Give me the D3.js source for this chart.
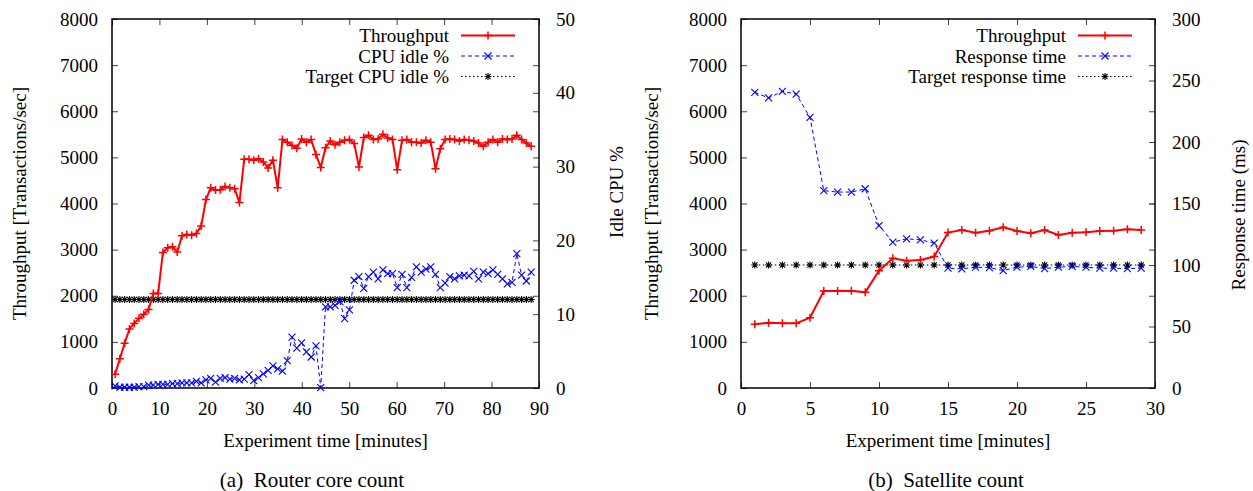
<html>
<head>
<meta charset="utf-8">
<script src="https://d3js.org/d3.v7.min.js"></script>
<style>
  body { margin: 0; background: #fff; }
  text { font-family: "Liberation Serif", "Times New Roman", serif; fill: #000; }
</style>
</head>
<body>
<svg id="chart" width="1253" height="491"></svg>
<script>
// ---- data: (a) router core count, one sample per minute ----
const routerThroughput = [300,635,970,1280,1400,1510,1600,1700,2050,2050,
  2940,3040,3060,2950,3300,3330,3310,3350,3510,4085,
  4340,4290,4300,4370,4340,4320,4020,4960,4960,4940,
  4970,4900,4770,4940,4340,5385,5330,5260,5200,5400,
  5330,5385,5065,4780,5210,5355,5275,5330,5370,5385,
  5300,4790,5430,5480,5390,5400,5500,5420,5385,4730,
  5370,5385,5330,5330,5310,5370,5330,4755,5185,5385,
  5400,5385,5355,5385,5370,5355,5310,5240,5330,5385,
  5330,5400,5385,5400,5480,5390,5310,5240]
const routerIdle = [0.3,0.1,0.1,0.1,0.1,0.2,0.2,0.4,0.4,0.5,
  0.5,0.5,0.6,0.6,0.7,0.7,0.7,0.9,0.7,1.1,
  1.3,0.8,1.3,1.4,1.2,1.3,1.1,1.2,1.8,1.0,
  1.4,1.9,2.4,3.0,2.6,2.3,3.7,6.9,5.4,6.1,
  4.9,4.2,5.7,0.05,11.0,11.0,11.2,11.7,9.4,10.6,
  14.6,15.1,13.5,15.1,15.7,14.8,16.0,15.5,15.5,13.6,
  15.4,13.6,15.0,16.4,15.7,16.1,16.4,15.4,13.6,14.2,
  15.1,14.8,15.2,15.3,15.2,15.8,14.8,15.7,15.5,16.0,
  15.4,14.8,14.1,14.3,18.2,15.3,14.5,15.7]
const routerTargetIdle = 12
const routerStart = 0.65, routerStep = 1.008

// ---- data: (b) satellite count ----
const satMinutes = [1,2,3,4,5,6,7,8,9,10,11,12,13,14,15,16,17,18,19,20,21,22,23,24,25,26,27,28,29]
const satThroughput = [1381,1416,1402,1402,1525,2103,2103,2110,2074,2543,
  2811,2760,2775,2850,3370,3425,3367,3411,3483,3404,
  3353,3425,3317,3367,3375,3404,3411,3440,3425]
const satResponse = [240.4,235.8,241.2,239,220,160.4,159.3,159.3,162,132.1,
  118.6,121.3,120.5,117.8,97.4,96.9,98.2,97.9,95.5,98.2,
  98.8,97.1,98.2,98.8,98.2,97.4,97.4,97.1,97.4]
const satTargetResponse = 100

const yTicks = [0,1000,2000,3000,4000,5000,6000,7000,8000]

const svg = d3.select("#chart")
svg.append("rect").attr("width", 1253).attr("height", 491).attr("fill", "#fff")

const sym = {
  plus: "M-4,0H4M0,-4V4",
  cross: "M-3.5,-3.5L3.5,3.5M-3.5,3.5L3.5,-3.5",
  star: "M-3.5,0H3.5M0,-3.5V3.5M-2.6,-2.6L2.6,2.6M-2.6,2.6L2.6,-2.6"
}
const serif = '"Liberation Serif", "Times New Roman", serif'
const fmt = d3.format("d")

function panel(o) {
  let g = svg.append("g")
  let x = d3.scaleLinear().domain(o.xDomain).range([o.left, o.right])
  let y = d3.scaleLinear().domain([0, 8000]).range([o.bottom, o.top])
  let y2 = d3.scaleLinear().domain(o.y2Domain).range([o.bottom, o.top])

  let axisStyle = sel => {
    sel.attr("font-family", null).attr("font-size", null)
    sel.select(".domain").remove()
    sel.selectAll(".tick line").attr("stroke", "#444")
    sel.selectAll(".tick text")
      .style("font-family", serif).style("font-size", "19px").attr("fill", "#000")
  }

  g.append("g").attr("transform", `translate(0,${o.bottom})`)
    .call(d3.axisBottom(x).tickValues(o.xTicks).tickFormat(fmt).tickSize(-6).tickPadding(14))
    .call(axisStyle)
  g.append("g").attr("transform", `translate(0,${o.top})`)
    .call(d3.axisTop(x).tickValues(o.xTicks).tickSize(-6).tickFormat(""))
    .call(axisStyle)
  g.append("g").attr("transform", `translate(${o.left},0)`)
    .call(d3.axisLeft(y).tickValues(yTicks).tickFormat(fmt).tickSize(-6).tickPadding(14))
    .call(axisStyle)
  g.append("g").attr("transform", `translate(${o.right},0)`)
    .call(d3.axisRight(y).tickValues(yTicks).tickSize(-6).tickFormat(""))
    .call(axisStyle)
  g.append("g").attr("transform", `translate(${o.right},0)`)
    .call(d3.axisRight(y2).tickValues(o.y2Ticks).tickFormat(fmt).tickSize(-6).tickPadding(17))
    .call(axisStyle)

  g.append("rect")
    .attr("x", o.left).attr("y", o.top)
    .attr("width", o.right - o.left).attr("height", o.bottom - o.top)
    .attr("fill", "none").attr("stroke", "#000").attr("stroke-width", 1.5)

  let series = [
    {vals: o.throughput, sc: y, color: "#ff0000", w: 2, dash: null, mark: sym.plus, mw: 1.5},
    {vals: o.second, sc: y2, color: "#0000ff", w: 1, dash: "4,3", mark: sym.cross, mw: 1.1},
    {vals: o.target, sc: y2, color: "#000", w: 1, dash: "1.5,2.5", mark: sym.star, mw: 1.1}
  ]

  // draw order: target, second, throughput
  series.slice().reverse().forEach(s => {
    let pts = s.vals.map((v, i) => [x(o.times[i]), s.sc(v)])
    g.append("path")
      .attr("d", d3.line()(pts))
      .attr("fill", "none").attr("stroke", s.color)
      .attr("stroke-width", s.w).attr("stroke-dasharray", s.dash)
    g.selectAll(null).data(pts).enter().append("path")
      .attr("d", s.mark)
      .attr("transform", d => `translate(${d[0]},${d[1]})`)
      .attr("stroke", s.color).attr("stroke-width", s.mw).attr("fill", "none")
  })

  // legend
  o.legend.forEach((label, i) => {
    let s = series[i]
    let ly = o.legendY[i]
    g.append("text").attr("x", o.legendX).attr("y", ly).attr("dy", "0.35em")
      .attr("text-anchor", "end").style("font-size", "19px").text(label)
    g.append("line")
      .attr("x1", o.legendX + 12).attr("x2", o.legendX + 66)
      .attr("y1", ly).attr("y2", ly)
      .attr("stroke", s.color).attr("stroke-width", s.w).attr("stroke-dasharray", s.dash)
    g.append("path").attr("d", s.mark)
      .attr("transform", `translate(${o.legendX + 39},${ly})`)
      .attr("stroke", s.color).attr("stroke-width", s.mw).attr("fill", "none")
  })

  // axis titles
  let mid = (o.top + o.bottom) / 2
  g.append("text")
    .attr("transform", `translate(${o.yTitleX},${mid}) rotate(-90)`)
    .attr("text-anchor", "middle").attr("dy", "0.35em")
    .style("font-size", "19px").text("Throughput [Transactions/sec]")
  g.append("text")
    .attr("transform", `translate(${o.y2TitleX},${o.y2TitleY}) rotate(-90)`)
    .attr("text-anchor", "middle").attr("dy", "0.35em")
    .style("font-size", "19px").text(o.y2Title)
  g.append("text")
    .attr("x", (o.left + o.right) / 2).attr("y", 440).attr("dy", "0.35em")
    .attr("text-anchor", "middle").style("font-size", "19px")
    .text("Experiment time [minutes]")
  g.append("text")
    .attr("x", o.captionX).attr("y", 480).attr("dy", "0.35em")
    .attr("text-anchor", "middle").style("font-size", "21px")
    .attr("xml:space", "preserve")
    .text(o.caption)
}

panel({
  left: 112, right: 539, top: 19, bottom: 388,
  xDomain: [0, 90], xTicks: d3.range(0, 91, 10),
  y2Domain: [0, 50], y2Ticks: [0, 10, 20, 30, 40, 50],
  times: routerThroughput.map((d, i) => routerStart + i * routerStep),
  throughput: routerThroughput,
  second: routerIdle,
  target: routerThroughput.map(() => routerTargetIdle),
  legend: ["Throughput", "CPU idle %", "Target CPU idle %"],
  legendX: 449, legendY: [35.5, 56, 76.5],
  yTitleX: 19, y2TitleX: 616, y2TitleY: 192, y2Title: "Idle CPU %",
  captionX: 312, caption: "(a)  Router core count"
})

panel({
  left: 741, right: 1155, top: 19, bottom: 388,
  xDomain: [0, 30], xTicks: d3.range(0, 31, 5),
  y2Domain: [0, 300], y2Ticks: [0, 50, 100, 150, 200, 250, 300],
  times: satMinutes,
  throughput: satThroughput,
  second: satResponse,
  target: satMinutes.map(() => satTargetResponse),
  legend: ["Throughput", "Response time", "Target response time"],
  legendX: 1066, legendY: [35.5, 56, 76.5],
  yTitleX: 651, y2TitleX: 1238, y2TitleY: 215, y2Title: "Response time (ms)",
  captionX: 946, caption: "(b)  Satellite count"
})
</script>
</body>
</html>
